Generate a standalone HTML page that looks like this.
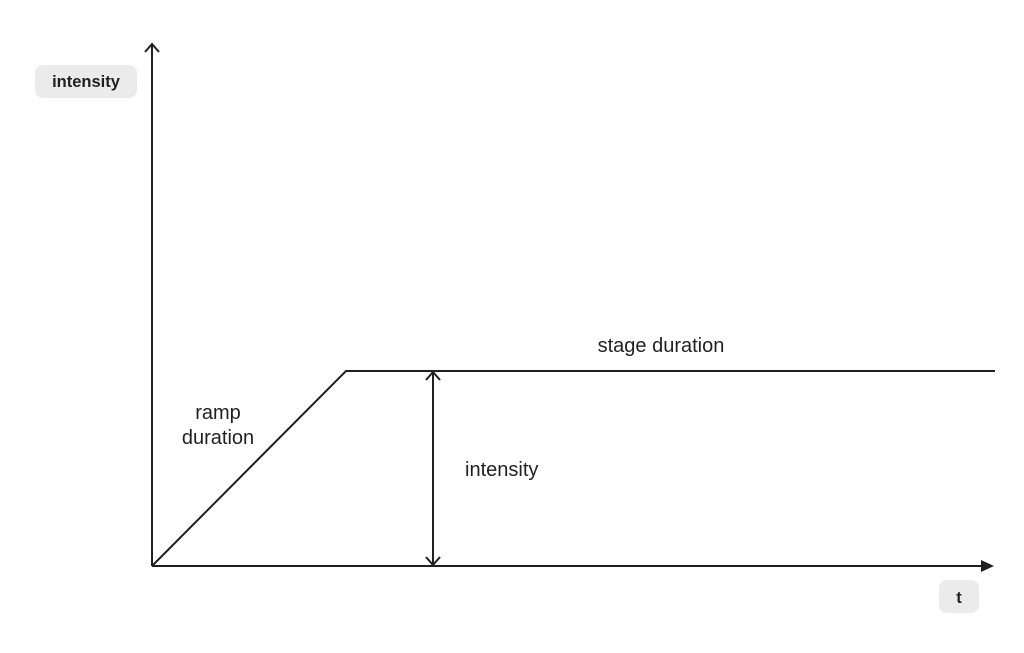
<!DOCTYPE html>
<html><head><meta charset="utf-8"><style>
html,body{margin:0;padding:0;background:#fff;}
svg{display:block;}
text{font-family:"Liberation Sans",sans-serif;fill:#231f20;}
</style></head><body>
<svg width="1024" height="653" viewBox="0 0 1024 653" xmlns="http://www.w3.org/2000/svg">
<rect width="1024" height="653" fill="#fff"/>
<g stroke="#231f20" stroke-width="2" fill="none">
<line x1="152" y1="45" x2="152" y2="566"/>
<polyline points="145,52 152,44 159,52"/>
<line x1="152" y1="566" x2="984" y2="566"/>
<polyline points="152,566 346,371 995,371"/>
<line x1="433" y1="372" x2="433" y2="565"/>
<polyline points="426,380 433,372 440,380"/>
<polyline points="426,557 433,565 440,557"/>
</g>
<polygon points="981,560 994,566 981,572" fill="#231f20"/>
<rect x="35" y="65" width="102" height="33" rx="8" fill="#ebebeb"/>
<text x="86" y="87" font-size="16.5" font-weight="bold" text-anchor="middle">intensity</text>
<rect x="939" y="580" width="40" height="33" rx="8" fill="#ebebeb"/>
<text x="959" y="603" font-size="16.5" font-weight="bold" text-anchor="middle">t</text>
<text x="218" y="419" font-size="20" text-anchor="middle">ramp</text>
<text x="218" y="444" font-size="20" text-anchor="middle">duration</text>
<text x="661" y="352" font-size="20" text-anchor="middle">stage duration</text>
<text x="465" y="476" font-size="20">intensity</text>
</svg>
</body></html>
